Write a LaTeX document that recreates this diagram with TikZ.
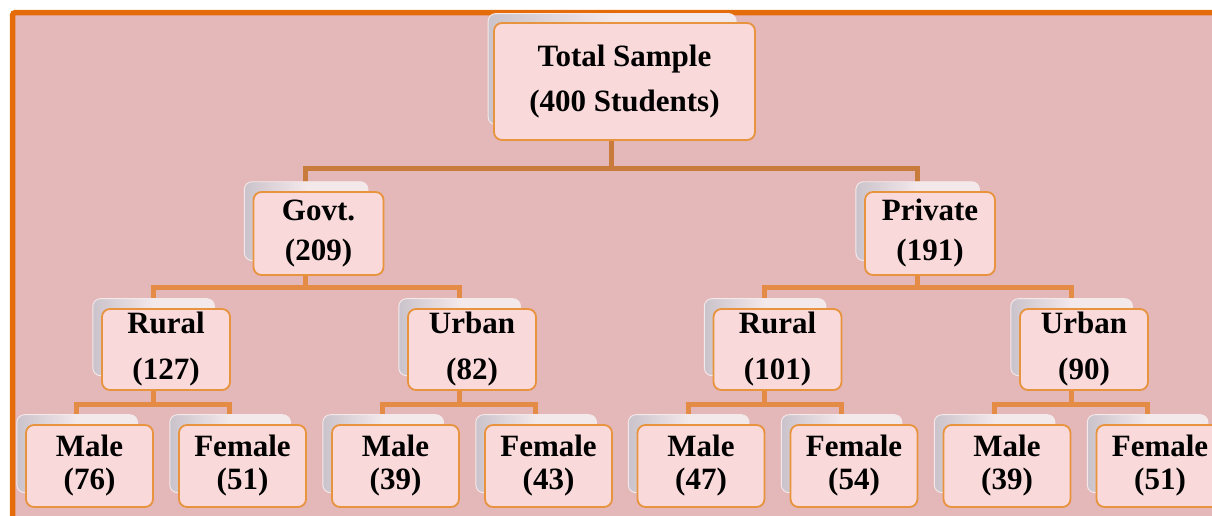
\documentclass[tikz,border=0pt]{standalone}
\usepackage{fontspec}
\setmainfont{Liberation Serif}
\usetikzlibrary{shadows, backgrounds}

\definecolor{bgpink}{HTML}{E4B7B8}
\definecolor{frameorange}{HTML}{E46C0A}
\definecolor{cardfill}{HTML}{F9D9D9}
\definecolor{cardline}{HTML}{E8933E}
\definecolor{backfill}{HTML}{F3E8EA}
\definecolor{backside}{HTML}{CBC3CB}
\definecolor{rootline}{HTML}{C97B3B}
\definecolor{linkline}{HTML}{E48B45}

\begin{document}
\begin{tikzpicture} [
    x = 1pt, y = 1pt,
    card/.style = {rectangle, rounded corners = 8pt, draw = cardline,
        line width = 1.8pt, fill = cardfill, inner sep = 0pt, align = center,
        general shadow = {shadow xshift = -13pt, shadow yshift = 13pt,
            shadow scale = 0.95, left color = backside, right color = backfill,
            middle color = backfill, draw = backfill, line width = 1pt}},
    rootbox/.style = {card, minimum width = 261pt, minimum height = 117pt,
        font = \fontsize{31}{45}\selectfont\bfseries},
    sectorbox/.style = {card, minimum width = 130pt, minimum height = 83pt,
        font = \fontsize{31}{40}\selectfont\bfseries},
    areabox/.style = {card, minimum width = 128pt, minimum height = 81pt,
        font = \fontsize{31}{46}\selectfont\bfseries},
    sexbox/.style = {card, minimum width = 127pt, minimum height = 82pt,
        font = \fontsize{31}{33}\selectfont\bfseries},
    rootlink/.style = {draw = rootline, line width = 5pt},
    link/.style = {draw = linkline, line width = 5pt}]

    \useasboundingbox (0,0) rectangle (1212,-515);

    \node (total) [rootbox] at (624.5,-81.5) {Total Sample\\(400 Students)};

    \node (govt) [sectorbox] at (318.5,-233.5) {Govt.\\(209)};
    \node (priv) [sectorbox] at (930,-233.5) {Private\\(191)};

    \node (grur) [areabox] at (166,-349.5) {Rural\\(127)};
    \node (gurb) [areabox] at (472,-349.5) {Urban\\(82)};
    \node (prur) [areabox] at (777.5,-349.5) {Rural\\(101)};
    \node (purb) [areabox] at (1084,-349.5) {Urban\\(90)};

    \node (grm) [sexbox] at (89.5,-466) {Male\\(76)};
    \node (grf) [sexbox] at (242.5,-466) {Female\\(51)};
    \node (gum) [sexbox] at (395.5,-466) {Male\\(39)};
    \node (guf) [sexbox] at (548.5,-466) {Female\\(43)};
    \node (prm) [sexbox] at (701,-466) {Male\\(47)};
    \node (prf) [sexbox] at (854,-466) {Female\\(54)};
    \node (pum) [sexbox] at (1007,-466) {Male\\(39)};
    \node (puf) [sexbox] at (1160,-466) {Female\\(51)};

    \begin{scope}[on background layer]
        % frame
        \draw [fill = bgpink, draw = frameorange, line width = 5.5pt,
            rounded corners = 3pt] (12.5,-12.5) rectangle (1240,-540);

        \draw [rootlink] ([xshift=-13pt]total.south) -- ++(0,-28) -| ([xshift=-13pt]govt.center);
        \draw [rootlink] ([xshift=-13pt]total.south) -- ++(0,-28) -| ([xshift=-13pt]priv.center);

        \draw [link] ([xshift=-13pt]govt.south) -- ++(0,-12) -| ([xshift=-13pt]grur.center);
        \draw [link] ([xshift=-13pt]govt.south) -- ++(0,-12) -| ([xshift=-13pt]gurb.center);
        \draw [link] ([xshift=-13pt]priv.south) -- ++(0,-12) -| ([xshift=-13pt]prur.center);
        \draw [link] ([xshift=-13pt]priv.south) -- ++(0,-12) -| ([xshift=-13pt]purb.center);

        \draw [link] ([xshift=-13pt]grur.south) -- ++(0,-14) -| ([xshift=-13pt]grm.center);
        \draw [link] ([xshift=-13pt]grur.south) -- ++(0,-14) -| ([xshift=-13pt]grf.center);
        \draw [link] ([xshift=-13pt]gurb.south) -- ++(0,-14) -| ([xshift=-13pt]gum.center);
        \draw [link] ([xshift=-13pt]gurb.south) -- ++(0,-14) -| ([xshift=-13pt]guf.center);
        \draw [link] ([xshift=-13pt]prur.south) -- ++(0,-14) -| ([xshift=-13pt]prm.center);
        \draw [link] ([xshift=-13pt]prur.south) -- ++(0,-14) -| ([xshift=-13pt]prf.center);
        \draw [link] ([xshift=-13pt]purb.south) -- ++(0,-14) -| ([xshift=-13pt]pum.center);
        \draw [link] ([xshift=-13pt]purb.south) -- ++(0,-14) -| ([xshift=-13pt]puf.center);
    \end{scope}
\end{tikzpicture}
\end{document}
